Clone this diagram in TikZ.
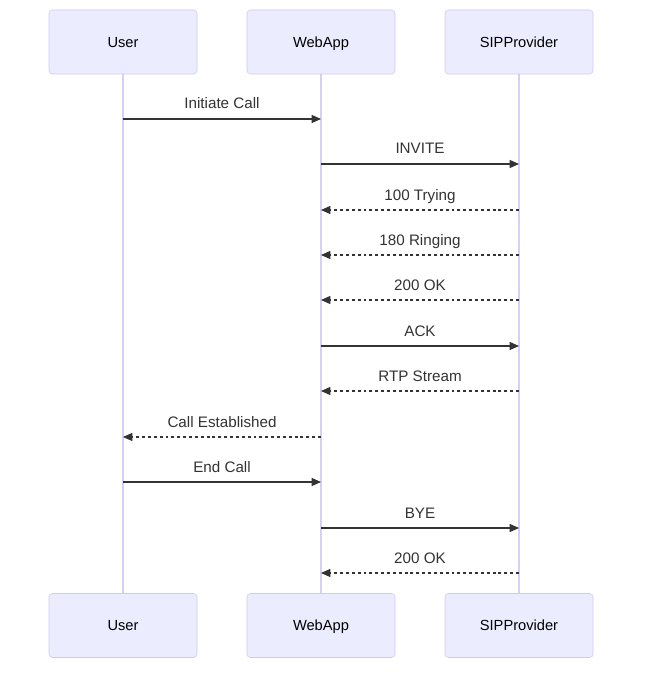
\documentclass[tikz,border=0pt]{standalone}
\usepackage{fontspec}
\setmainfont{Liberation Sans}
\usetikzlibrary{arrows.meta}
\definecolor{actfill}{HTML}{ECECFF}
\definecolor{actdraw}{HTML}{CFC8F2}
\definecolor{lifec}{HTML}{D6D0F5}
\definecolor{msgc}{HTML}{333333}
\tikzset{
  actor/.style={draw=actdraw, fill=actfill, rounded corners=2.5pt, minimum width=148*0.75pt, minimum height=64*0.75pt, inner sep=0pt, text height=7.9pt, text depth=0pt, font=\fontsize{11pt}{13pt}\selectfont, text=black},
  lifeline/.style={draw=lifec, line width=1.2pt},
  msg/.style={draw=msgc, line width=0.9pt, -{Triangle[length=7pt,width=6pt]}},
  reply/.style={msg, dash pattern=on 2.2pt off 2.2pt},
  lbl/.style={font=\fontsize{11.4pt}{13pt}\selectfont, text=msgc, inner sep=0pt, anchor=base}
}
\begin{document}
\begin{tikzpicture}[x=0.75pt,y=-0.75pt]
\useasboundingbox (0,0) rectangle (650,677);
\fill[white] (0,0) rectangle (650,677);
% lifelines
\foreach \x/\n in {123/u,321/w,519/s}{
  \coordinate (\n t) at (\x,74);
  \coordinate (\n b) at (\x,593);
  \draw[lifeline] (\n t) -- (\n b);
}
\node[actor] (u1) at (123,42) {User};
\node[actor] (w1) at (321,42) {WebApp};
\node[actor] (s1) at (519,42) {SIPProvider};
\node[actor] (u2) at (123,625.5) {User};
\node[actor] (w2) at (321,625.5) {WebApp};
\node[actor] (s2) at (519,625.5) {SIPProvider};
% messages
\foreach \y/\a/\b/\st/\t in {
  119/u/w/msg/Initiate Call,
  164/w/s/msg/INVITE,
  210/s/w/reply/100 Trying,
  255/s/w/reply/180 Ringing,
  300/s/w/reply/200 OK,
  346/w/s/msg/ACK,
  391/s/w/reply/RTP Stream,
  437/w/u/reply/Call Established,
  482/u/w/msg/End Call,
  528/w/s/msg/BYE,
  573/s/w/reply/200 OK}{
  \coordinate (a\y) at (\a t |- 0,\y);
  \coordinate (b\y) at (\b t |- 0,\y);
  \draw[\st] (a\y) -- (b\y);
  \path (a\y) -- (b\y) node[midway, yshift=10*0.75pt, lbl] {\t};
}
\end{tikzpicture}
\end{document}
